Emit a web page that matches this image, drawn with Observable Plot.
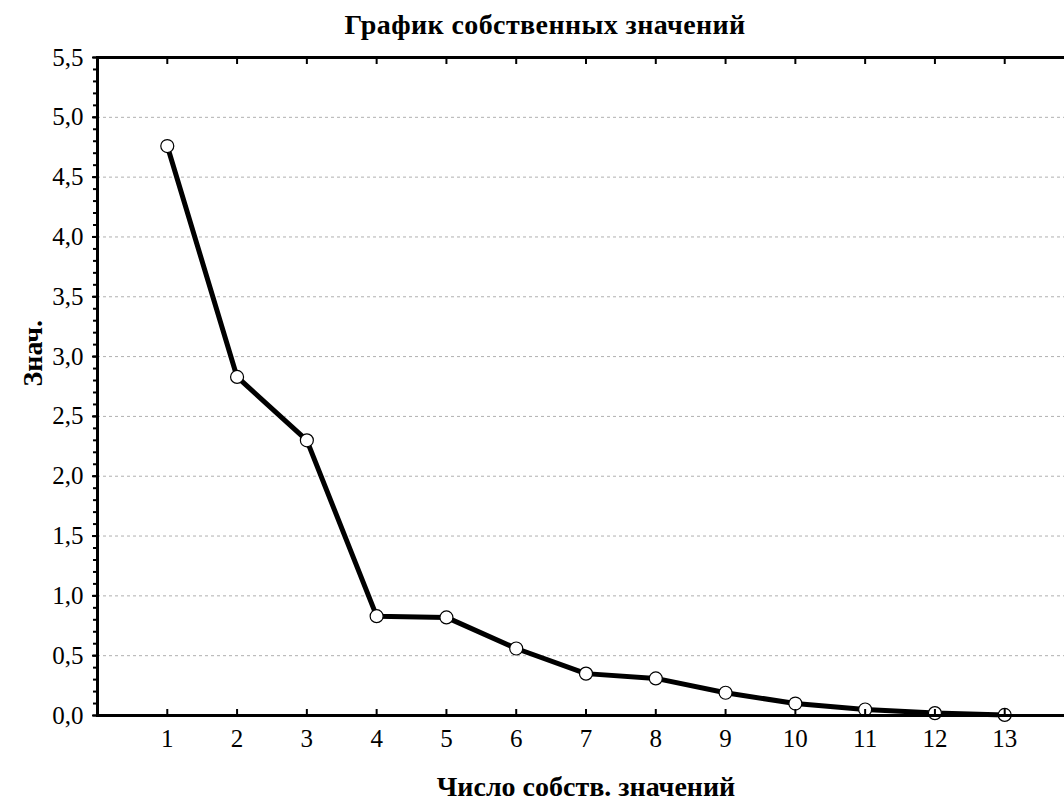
<!DOCTYPE html>
<html>
<head>
<meta charset="utf-8">
<script src="https://cdn.jsdelivr.net/npm/d3@7"></script>
<script src="https://cdn.jsdelivr.net/npm/@observablehq/plot@0.6"></script>
<style>
  body { margin: 0; background: #fff; font-family: "Liberation Serif", "DejaVu Serif", serif; }
  #title { position: relative; width: 1064px; height: 44px; }
  #title span { position: absolute; left: 0; width: 1090px; top: 11px; line-height: 28px; font-size: 28px; letter-spacing: 0.4px; font-weight: bold; text-align: center; color: #000; }
  svg { display: block; }
</style>
</head>
<body>
<div id="title"><span>График собственных значений</span></div>
<div id="chart"></div>
<script>
const titleText = "График собственных значений";
const xLabel = "Число собств. значений";
const yLabel = "Знач.";
const components = [1, 2, 3, 4, 5, 6, 7, 8, 9, 10, 11, 12, 13];
const eigenvalues = [4.76, 2.83, 2.30, 0.83, 0.82, 0.56, 0.35, 0.31, 0.19, 0.10, 0.05, 0.02, 0.005];
const yMajorTicks = [0, 0.5, 1, 1.5, 2, 2.5, 3, 3.5, 4, 4.5, 5, 5.5];
const yMinorTicks = d3.range(0, 56).map(i => i / 10);
const yGridTicks = [0.5, 1, 1.5, 2, 2.5, 3, 3.5, 4, 4.5, 5];

const data = components.map((c, i) => ({c, v: eigenvalues[i]}));
const fmt = d => d.toFixed(1).replace(".", ",");
const font = "Liberation Serif";

const chart = Plot.plot({
  width: 1064,
  height: 759,
  marginLeft: 97,
  marginRight: -10,
  marginTop: 13,
  marginBottom: 88,
  style: {fontFamily: font, fontSize: "25px", color: "#000", background: "#fff"},
  x: {domain: [0, 14], label: null, axis: null},
  y: {domain: [0, 5.5], label: null, axis: null},
  marks: [
    Plot.gridY(yGridTicks, {stroke: "#b0b0b0", strokeOpacity: 1, strokeDasharray: "3,3", strokeWidth: 1}),
    Plot.line(data, {x: "c", y: "v", stroke: "#000", strokeWidth: 5, strokeLinejoin: "round"}),
    Plot.dot(data, {x: "c", y: "v", r: 6.5, fill: "#fff", stroke: "#000", strokeWidth: 1.2}),
    Plot.frame({stroke: "#000", strokeWidth: 3}),
    // left axis: outward minor + major ticks
    Plot.axisY(yMinorTicks, {anchor: "left", tickSize: 4, text: null, strokeWidth: 2, label: null}),
    Plot.axisY(yMajorTicks, {anchor: "left", tickSize: 5, tickPadding: 9, tickFormat: fmt, fontSize: 25, strokeWidth: 2, label: null}),
    // bottom axis: inward ticks + labels
    Plot.axisX(components, {anchor: "bottom", tickSize: 6, dy: -6, text: null, strokeWidth: 2, label: null}),
    Plot.axisX(components, {anchor: "bottom", tickSize: 0, tickPadding: 14, fontSize: 25, label: null}),
    // top axis: inward ticks
    Plot.axisX(components, {anchor: "top", tickSize: 6, dy: 6, text: null, strokeWidth: 2, label: null}),
    Plot.text([xLabel], {frameAnchor: "bottom", dy: 80, lineAnchor: "bottom", fontSize: 28, fontWeight: "bold", fill: "#000", letterSpacing: "0.5px"}),
    Plot.text([yLabel], {frameAnchor: "left", dx: -64, rotate: -90, fontSize: 28, fontWeight: "bold", fill: "#000"})
  ]
});
document.getElementById("chart").appendChild(chart);
</script>
</body>
</html>
